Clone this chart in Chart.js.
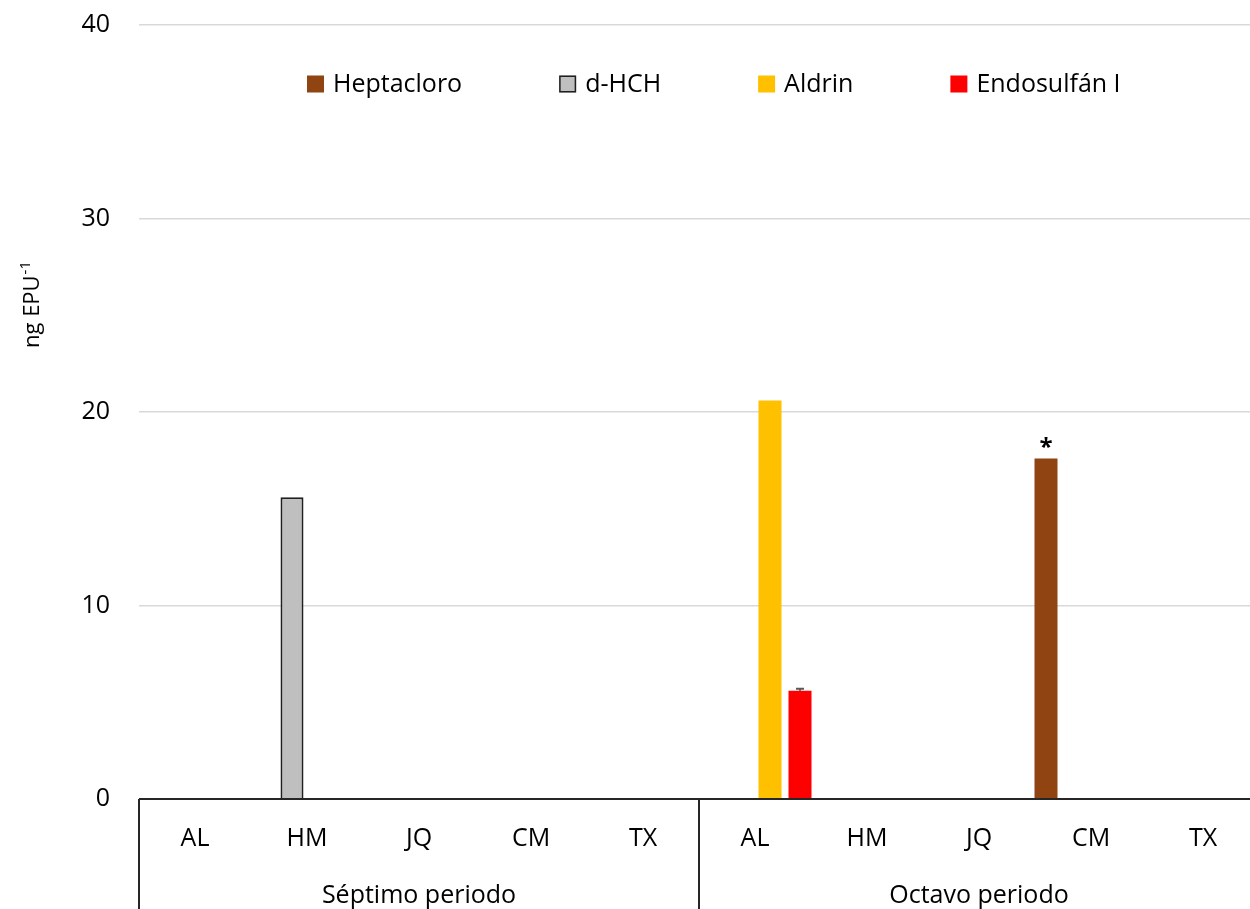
<!DOCTYPE html>
<html lang="es">
<head>
<meta charset="utf-8">
<title>Plaguicidas organoclorados por periodo</title>
<script src="https://cdn.jsdelivr.net/npm/chart.js@4/dist/chart.umd.min.js"></script>
<style>
  html, body { margin: 0; padding: 0; background: #fff; }
  #wrap { width: 1250px; height: 909px; overflow: hidden; position: relative; }
  #chart { display: block; }
</style>
</head>
<body>
<div id="wrap"><canvas id="chart" width="1260" height="920"></canvas></div>
<script>
// Sites sampled in each period
const categories = ['AL', 'HM', 'JQ', 'CM', 'TX', 'AL', 'HM', 'JQ', 'CM', 'TX'];
const periods = ['Séptimo periodo', 'Octavo periodo'];
const sitesPerPeriod = 5;

// Concentrations (ng EPU-1); null = not detected
const heptacloro  = [null, null, null, null, null, null, null, null, 17.6, null];
const dHCH        = [null, 15.6, null, null, null, null, null, null, null, null];
const aldrin      = [null, null, null, null, null, 20.6, null, null, null, null];
const endosulfanI = [null, null, null, null, null, 5.6, null, null, null, null];
const endosulfanIError = [null, null, null, null, null, 0.1, null, null, null, null];

// Significance marks: [dataset index, category index, text]
const marks = [[0, 8, '*']];

const yMin = 0, yMax = 40, yStep = 10;

const FONT = "'Open Sans', sans-serif";
const TEXT = '#000000';

const datasets = [
  { label: 'Heptacloro',   data: heptacloro,  backgroundColor: '#8f4411', borderWidth: 0 },
  { label: 'd-HCH',        data: dHCH,        backgroundColor: '#bfbfbf', borderColor: '#1f1f1f', borderWidth: 2 },
  { label: 'Aldrin',       data: aldrin,      backgroundColor: '#ffc000', borderWidth: 0 },
  { label: 'Endosulfán I', data: endosulfanI, backgroundColor: '#ff0000', borderWidth: 0, errors: endosulfanIError }
];
datasets.forEach(d => {
  d.categoryPercentage = 120 / 112;
  d.barPercentage = 23 / 30;
  d.borderSkipped = 'bottom';
});

// Legend, y title, error bars, marks and the two-level category axis
const decorations = {
  id: 'decorations',
  afterDatasetsDraw(chart) {
    const ctx = chart.ctx;
    const y = chart.scales.y;
    ctx.save();
    // plus-direction error bars
    chart.data.datasets.forEach((ds, di) => {
      if (!ds.errors) return;
      const meta = chart.getDatasetMeta(di);
      ds.errors.forEach((e, i) => {
        if (e == null || ds.data[i] == null) return;
        const bar = meta.data[i];
        const top = y.getPixelForValue(ds.data[i] + e);
        const base = y.getPixelForValue(ds.data[i]);
        ctx.strokeStyle = '#595959';
        ctx.lineWidth = 2;
        ctx.beginPath();
        ctx.moveTo(bar.x, base);
        ctx.lineTo(bar.x, top);
        ctx.moveTo(bar.x - 4, top);
        ctx.lineTo(bar.x + 4, top);
        ctx.stroke();
      });
    });
    // significance marks
    marks.forEach(([di, i, txt]) => {
      const bar = chart.getDatasetMeta(di).data[i];
      ctx.fillStyle = TEXT;
      ctx.font = 'bold 24px ' + FONT;
      ctx.textAlign = 'center';
      ctx.textBaseline = 'alphabetic';
      ctx.fillText(txt, bar.x, bar.y - 3);
    });
    ctx.restore();
  },
  afterDraw(chart) {
    const ctx = chart.ctx;
    const x = chart.scales.x;
    const area = chart.chartArea;
    const catW = (area.right - area.left) / categories.length;
    ctx.save();

    // category axis line and period dividers
    ctx.strokeStyle = '#262626';
    ctx.lineWidth = 2;
    ctx.beginPath();
    ctx.moveTo(area.left, area.bottom);
    ctx.lineTo(area.right, area.bottom);
    for (let p = 0; p <= periods.length; p++) {
      const idx = Math.min(p * sitesPerPeriod, categories.length - 1);
      const px = p * sitesPerPeriod < categories.length
        ? x.getPixelForValue(idx) - catW / 2
        : x.getPixelForValue(idx) + catW / 2;
      ctx.moveTo(px, area.bottom);
      ctx.lineTo(px, chart.height);
    }
    ctx.stroke();

    // site labels
    ctx.fillStyle = TEXT;
    ctx.font = '25px ' + FONT;
    ctx.textAlign = 'center';
    ctx.textBaseline = 'middle';
    categories.forEach((c, i) => ctx.fillText(c, x.getPixelForValue(i), area.bottom + 40));
    // period labels
    periods.forEach((p, k) => {
      const a = x.getPixelForValue(k * sitesPerPeriod);
      const b = x.getPixelForValue(k * sitesPerPeriod + sitesPerPeriod - 1);
      ctx.fillText(p, (a + b) / 2, area.bottom + 97);
    });

    // y axis title with superscript
    ctx.translate(39, 305);
    ctx.rotate(-Math.PI / 2);
    ctx.textBaseline = 'alphabetic';
    ctx.textAlign = 'left';
    ctx.font = '22px ' + FONT;
    const main = 'ng EPU';
    const sup = '-1';
    const mw = ctx.measureText(main).width;
    ctx.font = '15px ' + FONT;
    const sw = ctx.measureText(sup).width;
    const x0 = -(mw + sw) / 2;
    ctx.font = '22px ' + FONT;
    ctx.fillText(main, x0, 0);
    ctx.font = '15px ' + FONT;
    ctx.fillText(sup, x0 + mw + 1, -9);
    ctx.setTransform(1, 0, 0, 1, 0, 0);

    // legend
    const boxSize = 17, textGap = 9, itemGap = 97, ly = 84;
    let lx = 307;
    ctx.font = '25px ' + FONT;
    ctx.textBaseline = 'middle';
    ctx.textAlign = 'left';
    chart.data.datasets.forEach(ds => {
      ctx.fillStyle = ds.backgroundColor;
      ctx.fillRect(lx, ly - boxSize / 2, boxSize, boxSize);
      if (ds.borderWidth) {
        ctx.strokeStyle = ds.borderColor;
        ctx.lineWidth = 1.5;
        ctx.strokeRect(lx + 0.75, ly - boxSize / 2 + 0.75, boxSize - 1.5, boxSize - 1.5);
      }
      ctx.fillStyle = TEXT;
      const tx = lx + boxSize + textGap;
      ctx.fillText(ds.label, tx, ly + 1);
      lx = tx + ctx.measureText(ds.label).width + itemGap;
    });
    ctx.restore();
  }
};

new Chart(document.getElementById('chart'), {
  type: 'bar',
  data: { labels: categories, datasets },
  plugins: [decorations],
  options: {
    responsive: false,
    animation: false,
    devicePixelRatio: 1,
    layout: { padding: { left: 0, top: 25, right: 1, bottom: 0 } },
    plugins: { legend: { display: false }, tooltip: { enabled: false } },
    scales: {
      x: {
        offset: true,
        grid: { display: false },
        border: { display: false },
        ticks: { display: false },
        afterFit(s) { s.height = 121; s.paddingLeft = 0; s.paddingRight = 0; }
      },
      y: {
        min: yMin,
        max: yMax,
        ticks: {
          stepSize: yStep,
          padding: 29,
          color: TEXT,
          font: { family: FONT, size: 25 }
        },
        grid: { color: '#d9d9d9', lineWidth: 1.5, drawTicks: false },
        border: { display: false },
        afterFit(s) { s.width = 139; s.paddingTop = 0; s.paddingBottom = 0; }
      }
    }
  }
});
</script>
</body>
</html>
